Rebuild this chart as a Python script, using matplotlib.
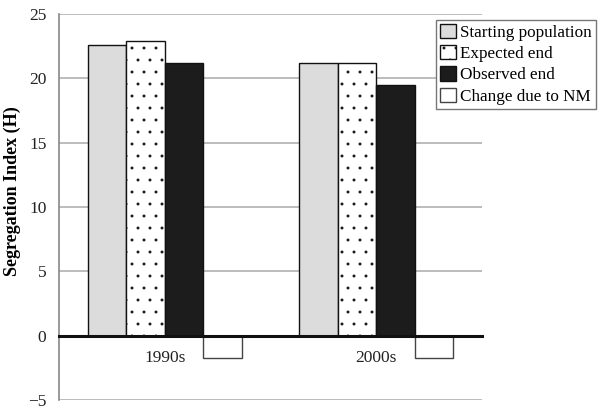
import matplotlib
matplotlib.use("Agg")
import matplotlib.pyplot as plt
import numpy as np

# rendered at 144 dpi so the ".." hatch matches the reference dot spacing
DPI = 144
S = 100 / DPI  # pixel-based sizes -> points

plt.rcParams["font.family"] = ["Liberation Serif", "DejaVu Serif"]
plt.rcParams["hatch.linewidth"] = 0.3 * S
plt.rcParams["hatch.color"] = "#333333"

# ── data ────────────────────────────────────────────────────────────────
decades = ["1990s", "2000s"]
starting = [22.6, 21.2]
expected = [22.9, 21.2]
observed = [21.2, 19.5]
change_nm = [-1.7, -1.75]

series_names = ["Starting population", "Expected end", "Observed end", "Change due to NM"]

fig = plt.figure(figsize=(602 / DPI, 409 / DPI), dpi=DPI)
ax = fig.add_axes([0.098, 0.022, 0.703, 0.944])

x = np.arange(len(decades)) + 0.5
w = 0.182
offs = [-1.5 * w, -0.5 * w, 0.5 * w, 1.5 * w]

lw = 1.0 * S
b1 = ax.bar(x + offs[0], starting, w, color="#dcdcdc", edgecolor="#111111", linewidth=lw,
            label=series_names[0], zorder=3)
b2 = ax.bar(x + offs[1], expected, w, color="white", edgecolor="#111111", linewidth=lw,
            hatch="..", label=series_names[1], zorder=3)
b3 = ax.bar(x + offs[2], observed, w, color="#1c1c1c", edgecolor="#111111", linewidth=lw,
            label=series_names[2], zorder=3)
b4 = ax.bar(x + offs[3], change_nm, w, color="white", edgecolor="#444444", linewidth=lw,
            label=series_names[3], zorder=3)

ax.set_xlim(0, 2)
ax.set_ylim(-5, 25)
ax.set_yticks([-5, 0, 5, 10, 15, 20, 25])
ax.yaxis.grid(True, color="#b0b0b0", linewidth=1.2 * S, zorder=0)
ax.set_axisbelow(True)

for s in ["top", "right"]:
    ax.spines[s].set_visible(False)
ax.spines["left"].set_color("#888888")
ax.spines["left"].set_linewidth(1.2 * S)
ax.spines["bottom"].set_position(("data", 0))
ax.spines["bottom"].set_color("#111111")
ax.spines["bottom"].set_linewidth(2.2 * S)
ax.spines["bottom"].set_zorder(4)

ax.set_xticks(x)
ax.set_xticklabels(decades, fontsize=12.5 * S, color="#222222")
ax.tick_params(axis="x", length=0, pad=10 * S)
ax.tick_params(axis="y", length=0, pad=9 * S, labelsize=12.5 * S, labelcolor="#222222")

ax.set_ylabel("Segregation Index (H)", fontsize=13 * S, fontweight="bold")
ax.yaxis.set_label_coords(-0.09, 0.54)

leg = fig.legend(handles=[b1, b2, b3, b4], loc="upper right",
                 bbox_to_anchor=(0.99, 0.952), fontsize=12.3 * S,
                 frameon=True, fancybox=False, framealpha=1,
                 edgecolor="#777777", handlelength=0.9, handleheight=0.9,
                 handletextpad=0.25, borderpad=0.25, labelspacing=0.25,
                 borderaxespad=0)
leg.get_frame().set_linewidth(1.0 * S)

fig.savefig("out.png", dpi=DPI)
